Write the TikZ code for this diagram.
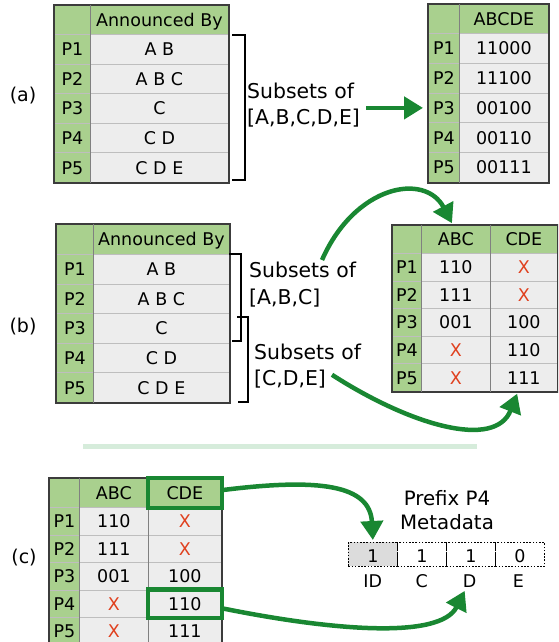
\documentclass[tikz,border=0pt]{standalone}
\usepackage{fontspec}
\setmainfont{DejaVu Sans}
\usetikzlibrary{arrows.meta}
\definecolor{hdrgreen}{RGB}{169,208,142}
\definecolor{cellgray}{RGB}{237,237,237}
\definecolor{gridgray}{RGB}{190,190,190}
\definecolor{bordergray}{RGB}{60,60,60}
\definecolor{arrgreen}{RGB}{25,135,50}
\definecolor{xred}{RGB}{224,64,30}
\definecolor{seplight}{RGB}{214,236,219}
\definecolor{metagray}{RGB}{220,220,220}
\newcommand\tabfont{\fontsize{17.5}{20}\selectfont}
\newcommand\bigfont{\fontsize{20.4}{26.7}\selectfont}
\newcommand\redx{\textcolor{xred}{X}}
\begin{document}
\begin{tikzpicture}[x=1pt,y=-1pt,
  cellb/.style={rectangle, inner sep=0pt, anchor=north west, draw=gridgray, line width=0.8pt, font=\tabfont, text height=12.8pt, text depth=0pt},
  hcell/.style={cellb, fill=hdrgreen},
  pcell/.style={cellb, fill=hdrgreen},
  dcell/.style={cellb, fill=cellgray},
  outerb/.style={draw=bordergray, line width=1.6pt},
  divb/.style={draw=gray, line width=1pt},
  garrow/.style={draw=arrgreen, line width=4.5pt, -{Triangle[length=19pt,width=22pt]}},
  brk/.style={draw=black, line width=1.8pt},
  sub/.style={inner sep=0pt, anchor=north west, align=left, font=\bigfont},
  lbl/.style={font=\fontsize{19}{22}\selectfont, inner sep=0pt},
  hl/.style={draw=arrgreen, line width=4.5pt},
  mcell/.style={rectangle, draw=black, dash pattern=on 1.6pt off 1.6pt, line width=0.9pt, inner sep=0pt, anchor=north west, minimum width=49pt, minimum height=24pt, font=\fontsize{17.5}{20}\selectfont, text height=16pt, text depth=0pt},
  mlab/.style={inner sep=0pt, font=\fontsize{17.5}{20}\selectfont, text height=12.8pt, text depth=0pt},
  sepline/.style={draw=seplight, line width=5pt},
]
\useasboundingbox (0,0) rectangle (558,642);
\begin{scope}
\clip (0,0) rectangle (558,642);

% ---------- (a) ----------
\node[lbl] (la) at (23,96) {(a)};
\node[hcell, minimum width=36, minimum height=29] (aL-h0) at (54,5) {};
\node[hcell, minimum width=138, minimum height=29] (aL-h1) at (90,5) {Announced By};
\foreach \txt [count=\i] in {A B, A B C, C, C D, C D E}{
  \node[pcell, minimum width=36, minimum height=29.6] (aL-p\i) at (54,{34+(\i-1)*29.6}) {P\i};
  \node[dcell, minimum width=138, minimum height=29.6] (aL-d\i) at (90,{34+(\i-1)*29.6}) {\txt};
}
\draw[outerb] (aL-h0.north west) rectangle (aL-d5.south east);
\draw[divb] (aL-h1.north west) -- (aL-d5.south west);
\draw[brk] (232,35) -- (245,35) -- (245,180) -- (232,180);
\node[sub] (aS) at (247,82.5) {Subsets of\\{}[A,B,C,D,E]};

\node[hcell, minimum width=31, minimum height=29] (aR-h0) at (428,4) {};
\node[hcell, minimum width=89, minimum height=29] (aR-h1) at (459,4) {ABCDE};
\foreach \txt [count=\i] in {11000,11100,00100,00110,00111}{
  \node[pcell, minimum width=31, minimum height=29.8] (aR-p\i) at (428,{33+(\i-1)*29.8}) {P\i};
  \node[dcell, minimum width=89, minimum height=29.8] (aR-d\i) at (459,{33+(\i-1)*29.8}) {\txt};
}
\draw[outerb] (aR-h0.north west) rectangle (aR-d5.south east);
\draw[divb] (aR-h1.north west) -- (aR-d5.south west);
\draw[garrow, shorten <=6pt, shorten >=5pt] (aS.east |- aR-p3.west) -- (aR-p3.west);

% ---------- (b) ----------
\node[lbl] (lb) at (23,327) {(b)};
\node[hcell, minimum width=37, minimum height=30] (bL-h0) at (56,224) {};
\node[hcell, minimum width=136, minimum height=30] (bL-h1) at (93,224) {Announced By};
\foreach \txt [count=\i] in {A B, A B C, C, C D, C D E}{
  \node[pcell, minimum width=37, minimum height=29.6] (bL-p\i) at (56,{254+(\i-1)*29.6}) {P\i};
  \node[dcell, minimum width=136, minimum height=29.6] (bL-d\i) at (93,{254+(\i-1)*29.6}) {\txt};
}
\draw[outerb] (bL-h0.north west) rectangle (bL-d5.south east);
\draw[divb] (bL-h1.north west) -- (bL-d5.south west);
\draw[brk] (229,254) -- (241,254) -- (241,341) -- (232,341);
\draw[brk] (237,317) -- (248,317) -- (248,402) -- (238,402);
\node[sub] (bS1) at (249,262) {Subsets of\\{}[A,B,C]};
\node[sub] (bS2) at (254,343.5) {Subsets of\\{}[C,D,E]};

\node[hcell, minimum width=29, minimum height=28] (bR-h0) at (392,225) {};
\node[hcell, minimum width=69, minimum height=28] (bR-h1) at (421,225) {ABC};
\node[hcell, minimum width=67, minimum height=28] (bR-h2) at (490,225) {CDE};
\foreach \u/\v [count=\i] in {110/\redx, 111/\redx, 001/100, \redx/110, \redx/111}{
  \node[pcell, minimum width=29, minimum height=27.6] (bR-p\i) at (392,{253+(\i-1)*27.6}) {P\i};
  \node[dcell, minimum width=69, minimum height=27.6] (bR-a\i) at (421,{253+(\i-1)*27.6}) {\u};
  \node[dcell, minimum width=67, minimum height=27.6] (bR-b\i) at (490,{253+(\i-1)*27.6}) {\v};
}
\draw[outerb] (bR-h0.north west) rectangle (bR-b5.south east);
\draw[divb] (bR-h1.north west) -- (bR-a5.south west);
\draw[divb] (bR-h2.north west) -- (bR-b5.south west);

\draw[garrow, shorten >=2pt] ([shift={(73,-2)}]bS1.north west) .. controls (355,185) and (425,172) .. ([shift={(-3,0)}]bR-h1.north);
\draw[garrow, shorten >=2pt] ([shift={(78,-14)}]bS2.south west) .. controls (410,425) and (495,450) .. ([shift={(-6,0)}]bR-b5.south);

% ---------- separator ----------
\draw[sepline] (83,446.5) -- (477,446.5);

% ---------- (c) ----------
\node[lbl] (lc) at (24,557.5) {(c)};
\node[hcell, minimum width=30, minimum height=29] (c-h0) at (49,478) {};
\node[hcell, minimum width=69, minimum height=29] (c-h1) at (79,478) {ABC};
\node[hcell, minimum width=73, minimum height=29] (c-h2) at (148,478) {CDE};
\foreach \u/\v [count=\i] in {110/\redx, 111/\redx, 001/100, \redx/110, \redx/111}{
  \node[pcell, minimum width=30, minimum height=27.5] (c-p\i) at (49,{507+(\i-1)*27.5}) {P\i};
  \node[dcell, minimum width=69, minimum height=27.5] (c-a\i) at (79,{507+(\i-1)*27.5}) {\u};
  \node[dcell, minimum width=73, minimum height=27.5] (c-b\i) at (148,{507+(\i-1)*27.5}) {\v};
}
\draw[outerb] (c-h0.north west) rectangle (c-b5.south east);
\draw[divb] (c-h1.north west) -- (c-a5.south west);
\draw[divb] (c-h2.north west) -- (c-b5.south west);
\draw[hl] (c-h2.north west) rectangle (c-h2.south east);
\draw[hl] (c-b4.north west) rectangle (c-b4.south east);

\node[inner sep=0pt, anchor=north, align=center, font=\fontsize{19.8}{24}\selectfont] (pref) at (447,490) {Prefix P4\\Metadata};
\node[mcell, fill=metagray] (m1) at (348,542) {1};
\node[mcell] (m2) at (397,542) {1};
\node[mcell] (m3) at (446,542) {1};
\node[mcell] (m4) at (495,542) {0};
\node[mlab] (mID) at (372.7,580.7) {ID};
\node[mlab] (mC) at (421.7,580.7) {C};
\node[mlab] (mD) at (469.5,580.7) {D};
\node[mlab] (mE) at (518.5,580.7) {E};

\draw[garrow, shorten >=2pt] ([shift={(2,-3)}]c-h2.east) .. controls (320,478) and (370,485) .. (m1.north);
\draw[garrow, shorten >=4pt] ([shift={(2,5)}]c-b4.east) .. controls (330,630) and (440,640) .. ([shift={(-3,0)}]mD.south);
\end{scope}
\end{tikzpicture}
\end{document}
